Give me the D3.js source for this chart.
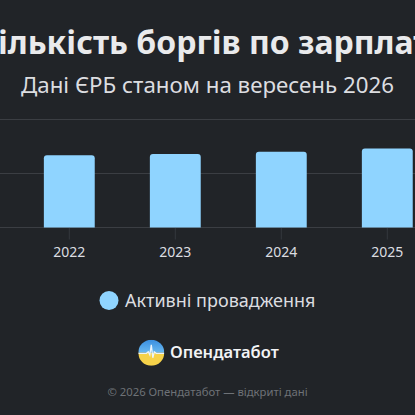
<!DOCTYPE html>
<html><head><meta charset="utf-8">
<script src="https://cdn.jsdelivr.net/npm/d3@7/dist/d3.min.js"></script>
<style>
html,body{margin:0;padding:0;background:#212428;overflow:hidden;}
svg{display:block;}
</style></head>
<body>
<script>
const categories = ["2022","2023","2024","2025"];
const values = [13400, 13600, 14050, 14650];
const yTicks = [0, 10000, 20000];
const title = "Кількість боргів по зарплаті";
const subtitle = "Дані ЄРБ станом на вересень 2026";
const legendLabel = "Активні провадження";
const brand = "Опендатабот";
const footer = "© 2026 Опендатабот — відкриті дані";

const W = 415, H = 415;
const font = "'Noto Sans', sans-serif";
const svg = d3.select("body").append("svg").attr("width", W).attr("height", H);
svg.append("rect").attr("width", W).attr("height", H).attr("fill", "#212428");

svg.append("text").attr("x", W/2).attr("y", 54).attr("text-anchor","middle")
  .attr("font-family", font).attr("font-weight", 700).attr("font-size", 32)
  .attr("fill", "#e9eaec").text(title);
svg.append("text").attr("x", W/2).attr("y", 93).attr("text-anchor","middle")
  .attr("font-family", font).attr("font-size", 22.3)
  .attr("fill", "#dcdde0").text(subtitle);

const x = d3.scaleBand().domain(categories).range([16.3, 440.3])
  .paddingInner(0.52).paddingOuter(0.26);
const y = d3.scaleLinear().domain([0, 20000]).range([227.5, 119.5]);

// gridlines
svg.append("g").selectAll("line").data(yTicks).join("line")
  .attr("x1", 0).attr("x2", W)
  .attr("y1", d => y(d)).attr("y2", d => y(d))
  .attr("stroke", "#3b3e43").attr("stroke-width", 1.2);

// x axis
const xAxis = svg.append("g").attr("transform", `translate(0,${y(0)})`)
  .call(d3.axisBottom(x).tickSize(12).tickPadding(8));
xAxis.select(".domain").remove();
xAxis.selectAll(".tick line").attr("stroke", "#34373c");
xAxis.selectAll(".tick text").attr("font-family", font).attr("font-size", 14)
  .attr("fill", "#dcdde0");

// bars with rounded top
const r = 3;
svg.append("g").selectAll("path").data(values).join("path")
  .attr("d", (d, i) => {
    const x0 = x(categories[i]), w = x.bandwidth(), y0 = y(d), yb = y(0);
    return `M${x0},${yb}V${y0+r}Q${x0},${y0} ${x0+r},${y0}H${x0+w-r}Q${x0+w},${y0} ${x0+w},${y0+r}V${yb}Z`;
  })
  .attr("fill", "#8fd4ff");

// legend
const lg = svg.append("g");
lg.append("circle").attr("cx", 109).attr("cy", 300.5).attr("r", 9.5).attr("fill", "#8fd4ff");
lg.append("text").attr("x", 125).attr("y", 307).attr("font-family", font).attr("font-size", 18)
  .attr("fill", "#dcdde0").text(legendLabel);

// logo
const lx = 151.3, ly = 352.8, lr = 13;
const defs = svg.append("defs");
defs.append("clipPath").attr("id","lc").append("circle").attr("cx", lx).attr("cy", ly).attr("r", lr);
const gb = defs.append("linearGradient").attr("id","gb").attr("x1",0).attr("y1",0).attr("x2",0).attr("y2",1);
gb.append("stop").attr("offset","0").attr("stop-color","#3a8fe0");
gb.append("stop").attr("offset","1").attr("stop-color","#6ab9f0");
const lgG = svg.append("g").attr("clip-path","url(#lc)");
lgG.append("rect").attr("x", lx-lr).attr("y", ly-lr).attr("width", 2*lr).attr("height", lr).attr("fill","url(#gb)");
lgG.append("rect").attr("x", lx-lr).attr("y", ly).attr("width", 2*lr).attr("height", lr).attr("fill","#f6d24a");
const pulse = [[-13,0.5],[-5,0.5],[-3,-1],[-1.5,2],[0,-8],[1.5,5],[3,-1],[5,0.5],[13,0.5]];
lgG.append("path").attr("d", d3.line()(pulse.map(p => [lx+p[0], ly+p[1]])))
  .attr("fill","none").attr("stroke","#eaf4fb").attr("stroke-width",1.3);
svg.append("text").attr("x", 170).attr("y", 358).attr("font-family", font).attr("font-weight", 600)
  .attr("font-size", 16.5).attr("fill", "#f2f3f5").text(brand);

svg.append("text").attr("x", W/2).attr("y", 396).attr("text-anchor","middle")
  .attr("font-family", font).attr("font-size", 11.3).attr("fill", "#6e7277").text(footer);
</script>
</body></html>
